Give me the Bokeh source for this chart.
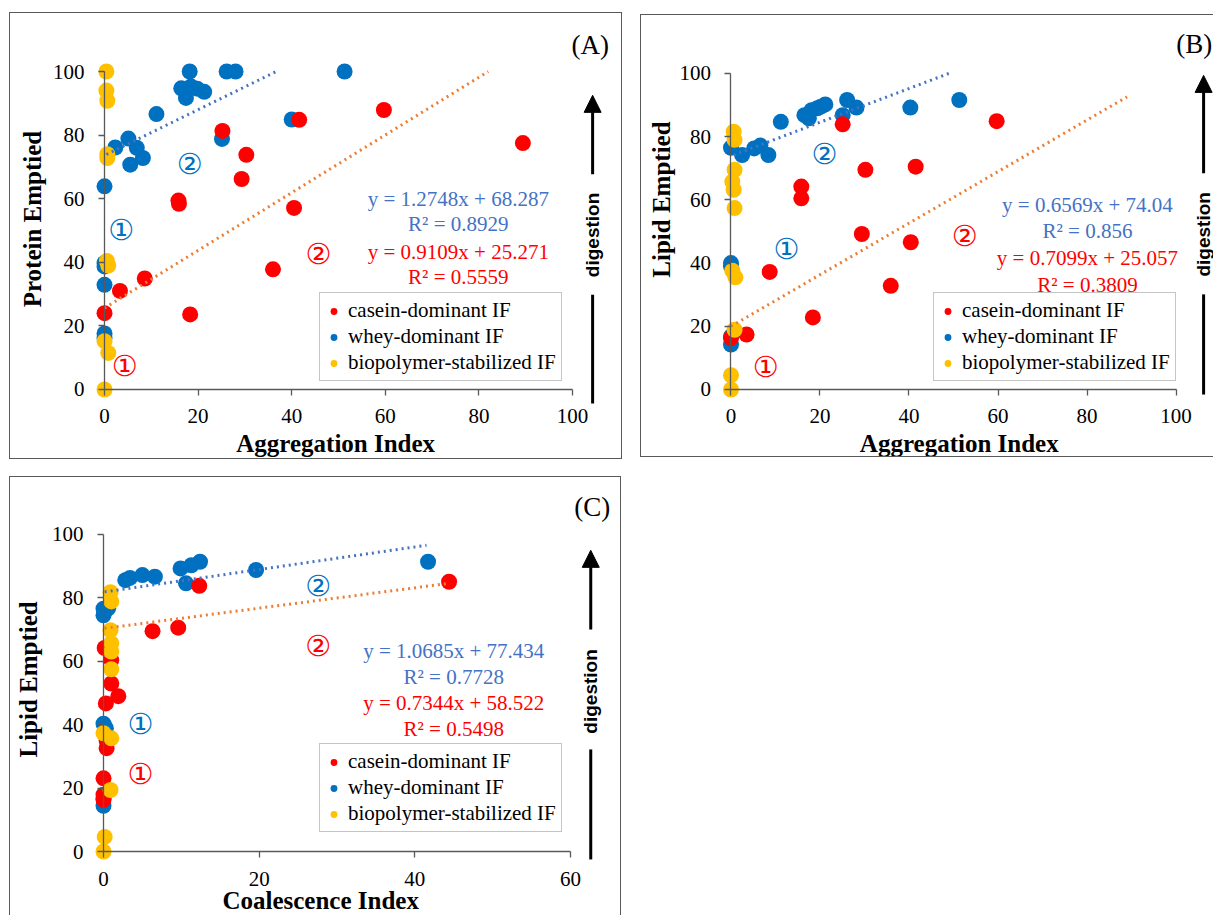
from bokeh.plotting import figure
from bokeh.models import (LinearAxis, FixedTicker, Label, Arrow, NormalHead,
                          Legend, LegendItem, Range1d)
from bokeh.layouts import column, row
from bokeh.embed import file_html
from bokeh.resources import INLINE

# ---------------- DATA ----------------
# Panel A: Protein Emptied vs Aggregation Index
a_casein_x = [0, 3.3, 8.6, 15.8, 15.9, 18.3, 25.2, 29.3, 30.3, 36.0, 40.5, 41.6, 59.7, 89.4]
a_casein_y = [24.0, 31.0, 34.9, 59.4, 58.4, 23.6, 81.3, 66.2, 73.8, 37.8, 57.1, 84.8, 87.9, 77.5]
a_whey_x = [0, 0, 0, 0, 0, 0, 2.3, 5.1, 5.5, 6.9, 8.2, 11.1, 16.4, 17.4, 18.2, 18.5, 19.8, 21.3, 25.1, 26.1, 28.0, 40.0, 51.3]
a_whey_y = [63.9, 32.9, 39.8, 38.7, 17.6, 16.2, 76.1, 78.9, 70.7, 76.0, 72.8, 86.6, 94.7, 91.7, 100, 95.3, 94.6, 93.6, 78.8, 100, 100, 84.9, 100]
a_bio_x = [0.4, 0.4, 0.6, 0.6, 0.6, 0.5, 0.8, 0, 0.8, 0]
a_bio_y = [100, 94.0, 90.8, 74.0, 72.8, 40.4, 39.0, 15.2, 11.5, 0]
a_whey_trend_x = [0.4, 36.7]
a_whey_trend_y = [73.9, 100]
a_casein_trend_x = [0, 82.0]
a_casein_trend_y = [25.6, 100]

# Panel B: Lipid Emptied vs Aggregation Index
b_casein_x = [0, 3.5, 8.7, 15.8, 15.8, 18.4, 25.1, 29.4, 30.2, 35.9, 40.4, 41.5, 59.7]
b_casein_y = [16.3, 17.4, 37.2, 64.2, 60.5, 22.8, 83.9, 49.2, 69.5, 32.8, 46.6, 70.5, 84.9]
b_whey_x = [0, 0, 0, 0, 0, 2.5, 5.2, 6.6, 8.4, 11.2, 16.5, 17.5, 18.1, 19.4, 20.2, 21.2, 25.1, 26.1, 28.2, 40.3, 51.3]
b_whey_y = [14.2, 16.8, 40.0, 39.0, 76.5, 74.2, 76.3, 77.2, 74.2, 84.7, 86.8, 85.8, 88.4, 89.0, 89.5, 90.2, 86.8, 91.6, 89.2, 89.2, 91.6]
b_bio_x = [0.6, 0.8, 0.8, 0.3, 0.6, 0.8, 0.3, 1.0, 0.8, 0, 0]
b_bio_y = [81.6, 79.0, 69.5, 65.8, 63.2, 57.4, 37.6, 35.5, 18.9, 4.5, 0]
b_whey_trend_x = [0.6, 49.3]
b_whey_trend_y = [74.2, 100.2]
b_casein_trend_x = [0, 89.0]
b_casein_trend_y = [20.0, 92.6]

# Panel C: Lipid Emptied vs Coalescence Index
c_casein_x = [0, 0, 0, 0.15, 0.4, 0.4, 0.3, 1.0, 1.0, 1.9, 6.3, 9.6, 12.3, 44.4]
c_casein_y = [16.3, 17.9, 23.1, 64.2, 35.0, 32.6, 46.7, 60.4, 53.0, 49.0, 69.5, 70.6, 83.8, 85.1]
c_whey_x = [0, 0, 0, 0.3, 0, 0, 0.6, 2.8, 3.4, 5.0, 6.6, 9.9, 10.6, 11.3, 12.4, 19.6, 41.7]
c_whey_y = [14.4, 16.8, 40.3, 38.9, 76.6, 74.5, 76.7, 85.6, 86.3, 87.2, 86.7, 89.3, 84.6, 90.3, 91.4, 88.8, 91.4]
c_bio_x = [0.9, 1.0, 0.9, 1.0, 1.0, 1.0, 0, 1.0, 0.9, 0.15, 0]
c_bio_y = [81.8, 78.9, 69.8, 65.7, 63.1, 57.5, 37.3, 35.7, 19.4, 4.6, 0]
c_whey_trend_x = [0.15, 41.5]
c_whey_trend_y = [81.9, 96.6]
c_casein_trend_x = [0.15, 44.4]
c_casein_trend_y = [70.4, 84.6]

legend_labels = ["casein-dominant IF", "whey-dominant IF", "biopolymer-stabilized IF"]
xticks_ab = [0, 20, 40, 60, 80, 100]
xticks_c = [0, 20, 40, 60]
yticks = [0, 20, 40, 60, 80, 100]

RED = "#FF0000"
BLUE = "#0070C0"
YELLOW = "#FFC000"
TBLUE = "#4472C4"
TORANGE = "#ED7D31"
SERIF = "Liberation Serif"
BLACK = "#000000"


def make_panel(cfg, d):
    p = figure(width=cfg["w"], height=cfg["h"], output_backend="svg",
               toolbar_location=None, x_axis_location=None, y_axis_location=None,
               x_range=Range1d(*cfg["xr"]), y_range=Range1d(*cfg["yr"]),
               min_border_left=0, min_border_right=0,
               min_border_top=0, min_border_bottom=0)
    p.outline_line_color = None
    p.xgrid.visible = False
    p.ygrid.visible = False
    p.styles = cfg["styles"]
    p.margin = cfg["margin"]

    for side, ticks, bounds, stand in (("below", cfg["xticks"], cfg["xbounds"], 14),
                                       ("left", yticks, (0, 100), 14)):
        ax = LinearAxis(fixed_location=0, bounds=bounds,
                        ticker=FixedTicker(ticks=ticks))
        ax.axis_line_color = "#595959"
        ax.axis_line_width = 1.3
        ax.major_tick_line_color = "#595959"
        ax.major_tick_line_width = 1.3
        ax.major_tick_out = 6
        ax.major_tick_in = 0
        ax.minor_tick_line_color = None
        ax.major_label_text_font = SERIF
        ax.major_label_text_font_size = "21px"
        ax.major_label_text_color = BLACK
        ax.major_label_standoff = stand
        p.add_layout(ax, side)

    r_whey = p.scatter(d["wx"], d["wy"], size=16, color=BLUE, line_color=None)
    r_cas = p.scatter(d["cx"], d["cy"], size=16, color=RED, line_color=None)
    r_bio = p.scatter(d["bx"], d["by"], size=16, color=YELLOW, line_color=None)

    p.line(d["wtx"], d["wty"], line_color=TBLUE, line_width=3, line_dash="2 4")
    p.line(d["ctx"], d["cty"], line_color=TORANGE, line_width=3, line_dash="2 4")

    leg = Legend(items=[LegendItem(label=legend_labels[0], renderers=[r_cas]),
                        LegendItem(label=legend_labels[1], renderers=[r_whey]),
                        LegendItem(label=legend_labels[2], renderers=[r_bio])],
                 location=cfg["legend_loc"],
                 label_text_font=SERIF, label_text_font_size="21px",
                 label_text_color=BLACK,
                 glyph_width=17, glyph_height=18, label_height=18,
                 spacing=1, padding=5, margin=0, label_standoff=6,
                 border_line_color="#8c8c8c", border_line_width=1,
                 background_fill_alpha=1)
    p.add_layout(leg)

    # axis titles
    xl, yl = cfg["xlabel"], cfg["ylabel"]
    p.add_layout(Label(x=xl[1], y=xl[2], text=xl[0], text_font=SERIF,
                       text_font_size="25px", text_font_style="bold", text_color=BLACK,
                       text_align="center", text_baseline="middle"))
    p.add_layout(Label(x=yl[1], y=yl[2], text=yl[0], text_font=SERIF,
                       text_font_size="25px", text_font_style="bold", text_color=BLACK,
                       text_align="center", text_baseline="middle", angle=1.5708))
    # panel tag
    tg = cfg["tag"]
    p.add_layout(Label(x=tg[1], y=tg[2], text=tg[0], text_font=SERIF,
                       text_font_size="27px", text_align="center", text_color=BLACK,
                       text_baseline="middle"))
    # equations
    for (txt, col), yy in zip(cfg["eqs"], cfg["eq_y"]):
        p.add_layout(Label(x=cfg["eq_x"], y=yy, text=txt, text_font=SERIF,
                           text_font_size="21px", text_color=col,
                           text_align="center", text_baseline="middle"))
    # circled region markers
    for txt, col, xx, yy in cfg["circ"]:
        p.add_layout(Label(x=xx, y=yy, text=txt, text_font="DejaVu Sans",
                           text_font_size="29px", text_color=col,
                           text_align="center", text_baseline="middle"))
    # digestion arrow
    ar = cfg["arrow"]
    p.add_layout(Arrow(end=NormalHead(size=17, fill_color="black", line_color="black"),
                       x_start=ar["x"], y_start=ar["y1"], x_end=ar["x"], y_end=ar["y2"],
                       line_width=3, line_color="black"))
    p.add_layout(Arrow(end=None, x_start=ar["x"], y_start=ar["y3"], x_end=ar["x"],
                       y_end=ar["y4"], line_width=3, line_color="black"))
    p.add_layout(Label(x=ar["x"], y=ar["yt"], text="digestion", text_font="Liberation Sans",
                       text_font_size="19px", text_font_style="bold", angle=1.5708,
                       text_color=BLACK, text_align="center", text_baseline="middle"))
    return p


cfg_a = dict(w=613, h=447, xr=(-20.09, 110.9), yr=(-22.33, 118.24),
             xticks=xticks_ab, xbounds=(0, 100),
             styles={"border": "1px solid #595959"}, margin=(12, 0, 0, 9),
             legend_loc=(309, 79),
             xlabel=("Aggregation Index", 49.4, -16.9),
             ylabel=("Protein Emptied", -15.4, 53.6),
             tag=("(A)", 103.8, 108.2),
             eq_x=75.6, eq_y=[59.9, 52.0, 43.3, 35.4],
             eqs=[("y = 1.2748x + 68.287", TBLUE), ("R² = 0.8929", TBLUE),
                  ("y = 0.9109x + 25.271", RED), ("R² = 0.5559", RED)],
             circ=[("①", BLUE, 3.6, 50.2), ("②", BLUE, 18.2, 70.8),
                   ("②", RED, 45.7, 42.6), ("①", RED, 4.3, 7.5)],
             arrow=dict(x=104.3, y1=67.7, y2=92.5, y3=29.8, y4=-4.4, yt=48.6))
cfg_b = dict(w=573, h=443, xr=(-20.11, 108.65), yr=(-21.84, 118.35),
             xticks=xticks_ab, xbounds=(0, 100),
             styles={"border-top": "1px solid #595959", "border-left": "1px solid #595959",
                     "border-bottom": "1px solid #595959"},
             margin=(14, 0, 0, 18),
             legend_loc=(292, 77),
             xlabel=("Aggregation Index", 51.3, -17.1),
             ylabel=("Lipid Emptied", -15.6, 60.1),
             tag=("(B)", 104.1, 109.2),
             eq_x=80.1, eq_y=[58.5, 50.3, 41.5, 33.2],
             eqs=[("y = 0.6569x + 74.04", TBLUE), ("R² = 0.856", TBLUE),
                  ("y = 0.7099x + 25.057", RED), ("R² = 0.3809", RED)],
             circ=[("②", BLUE, 21.0, 74.4), ("①", BLUE, 12.5, 44.6),
                   ("②", RED, 52.5, 48.7), ("①", RED, 7.8, 7.0)],
             arrow=dict(x=106.2, y1=68.4, y2=99.4, y3=30.1, y4=-1.6, yt=49.1))
cfg_c = dict(w=612, h=439, xr=(-11.95, 66.68), yr=(-20.50, 117.98),
             xticks=xticks_c, xbounds=(0, 60),
             styles={"border-top": "1px solid #595959", "border-left": "1px solid #595959",
                     "border-right": "1px solid #595959"},
             margin=(17, 0, 0, 9),
             legend_loc=(309, 84),
             xlabel=("Coalescence Index", 27.9, -15.6),
             ylabel=("Lipid Emptied", -9.6, 54.3),
             tag=("(C)", 62.8, 108.8),
             eq_x=45.0, eq_y=[63.1, 55.2, 47.0, 38.8],
             eqs=[("y = 1.0685x + 77.434", TBLUE), ("R² = 0.7728", TBLUE),
                  ("y = 0.7344x + 58.522", RED), ("R² = 0.5498", RED)],
             circ=[("②", BLUE, 27.6, 83.9), ("②", RED, 27.6, 64.7),
                   ("①", BLUE, 4.75, 40.1), ("①", RED, 4.75, 24.6)],
             arrow=dict(x=62.6, y1=70.0, y2=95.0, y3=32.2, y4=-2.5, yt=50.5))

pa = make_panel(cfg_a, dict(cx=a_casein_x, cy=a_casein_y, wx=a_whey_x, wy=a_whey_y,
                            bx=a_bio_x, by=a_bio_y, wtx=a_whey_trend_x, wty=a_whey_trend_y,
                            ctx=a_casein_trend_x, cty=a_casein_trend_y))
pb = make_panel(cfg_b, dict(cx=b_casein_x, cy=b_casein_y, wx=b_whey_x, wy=b_whey_y,
                            bx=b_bio_x, by=b_bio_y, wtx=b_whey_trend_x, wty=b_whey_trend_y,
                            ctx=b_casein_trend_x, cty=b_casein_trend_y))
pc = make_panel(cfg_c, dict(cx=c_casein_x, cy=c_casein_y, wx=c_whey_x, wy=c_whey_y,
                            bx=c_bio_x, by=c_bio_y, wtx=c_whey_trend_x, wty=c_whey_trend_y,
                            ctx=c_casein_trend_x, cty=c_casein_trend_y))

layout = column(row(pa, pb, spacing=0), pc, spacing=0)
open("out.html", "w").write(file_html(layout, INLINE))
